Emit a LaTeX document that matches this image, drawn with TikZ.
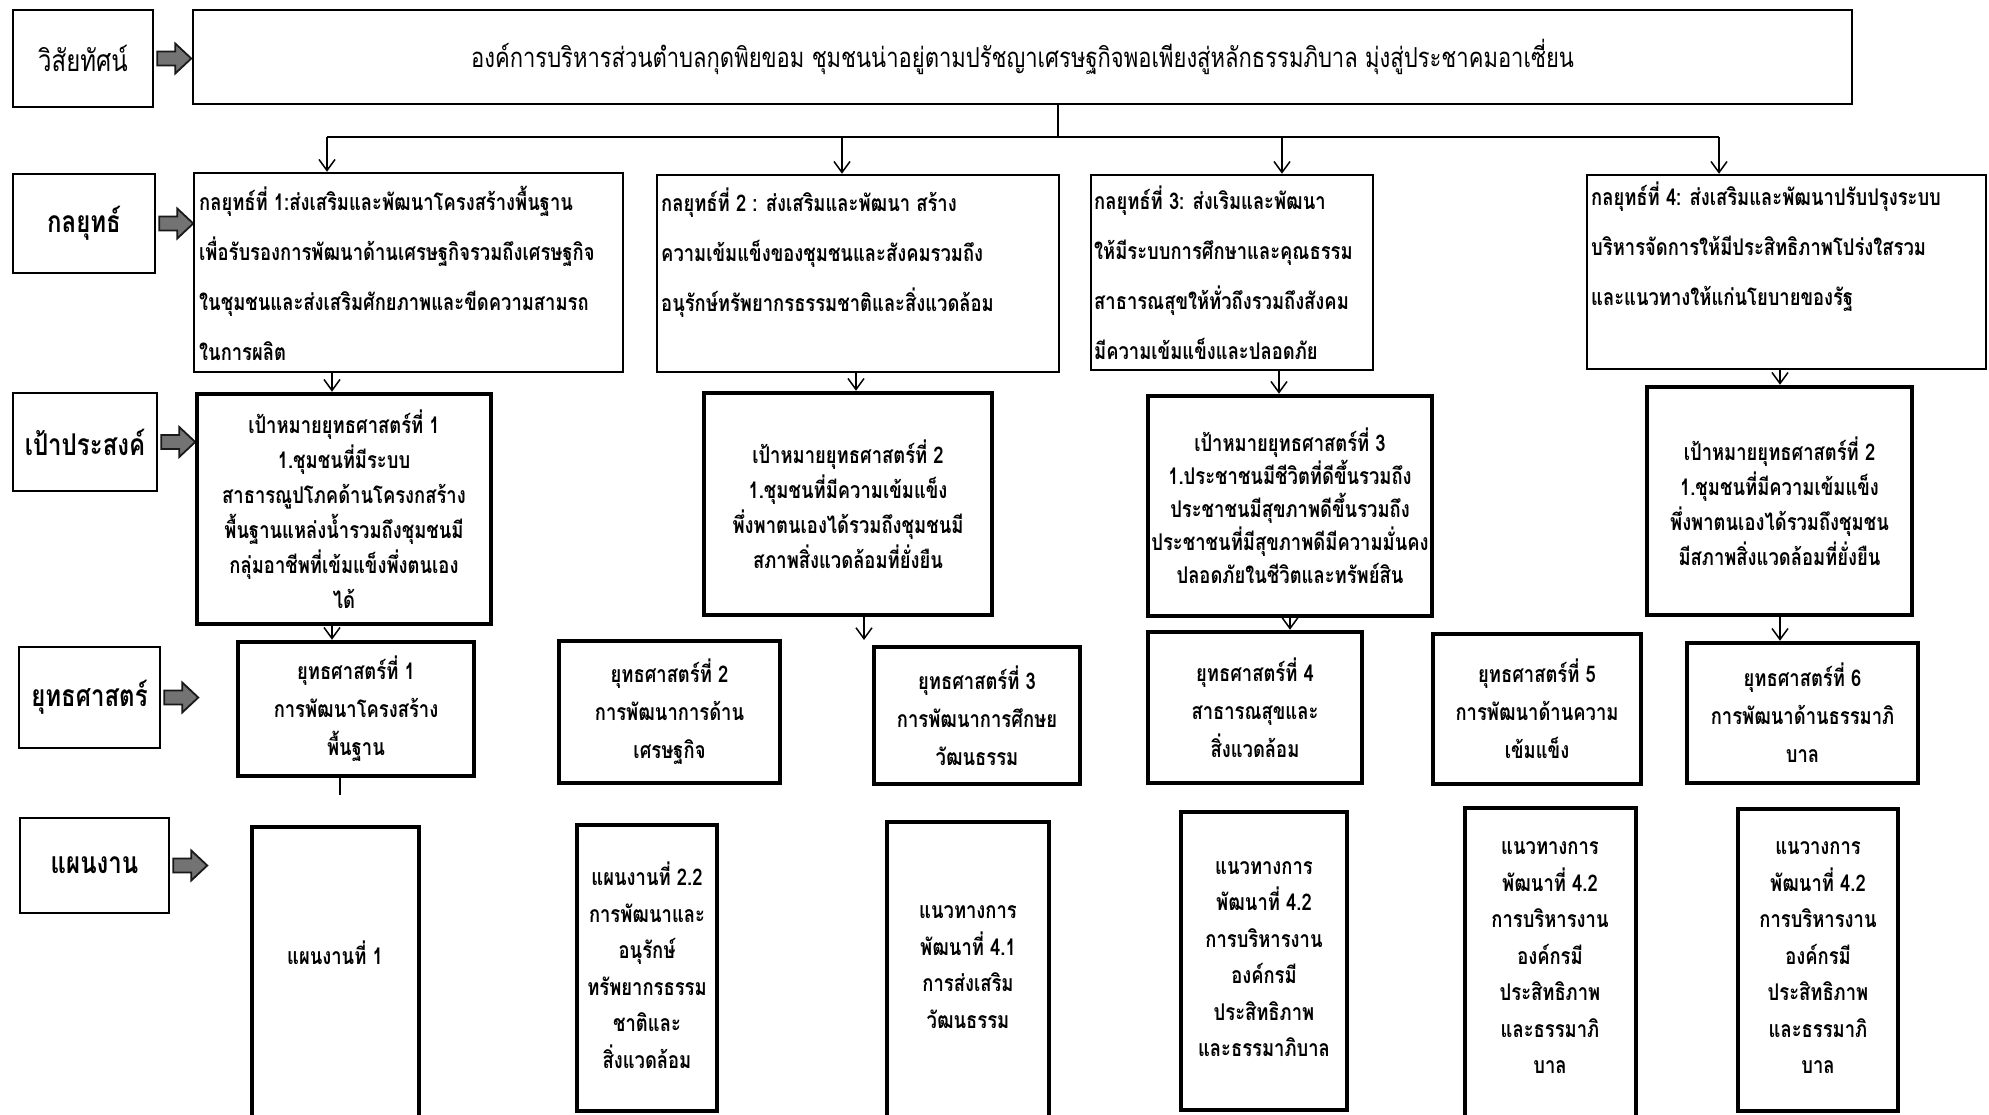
\documentclass[tikz,border=0pt]{standalone}
\usepackage{fontspec}
\newfontfamily\thai[Script=Thai,FakeStretch=0.8]{Loma}
\usetikzlibrary{arrows.meta,fit}
\newcommand\fatarrow[1]{\filldraw[fatarr] (#1) ++(3,-7) -- ++(18,0) -- ++(0,-8) -- ++(16,15) -- ++(-16,15) -- ++(0,-8) -- ++(-18,0) -- cycle;}
\begin{document}
\begin{tikzpicture}[x=1pt,y=-1pt,
  lab/.style={draw, line width=2.5pt, inner sep=0pt},
  sbox/.style={draw, line width=2.5pt, inner sep=0pt},
  tbox/.style={draw, line width=4.5pt, inner sep=0pt},
  arr/.style={line width=1.5pt, -{Straight Barb[length=11pt,width=16pt,line width=1.5pt]}},
  link/.style={line width=1.5pt},
  fatarr/.style={fill=black!55, draw=black!90, line width=1.8pt},
  labtxt/.style={font=\thai\bfseries\fontsize{30}{36}\selectfont, inner sep=0pt},
  labtxtr/.style={font=\thai\fontsize{30}{36}\selectfont, inner sep=0pt},
  vistxt/.style={font=\thai\fontsize{27.5}{32}\selectfont, inner sep=0pt},
  stxt/.style={font=\thai\bfseries\fontsize{23}{50}\selectfont, align=left, inner sep=0pt, anchor=north west},
  gtxt/.style={font=\thai\bfseries\fontsize{23}{35}\selectfont, align=center, inner sep=0pt},
  gtxtb/.style={font=\thai\bfseries\fontsize{23}{33}\selectfont, align=center, inner sep=0pt},
  ttxt/.style={font=\thai\bfseries\fontsize{23}{38}\selectfont, align=center, inner sep=0pt},
  ptxt/.style={font=\thai\bfseries\fontsize{23}{36.5}\selectfont, align=center, inner sep=0pt}
]
\fill[white] (0,0) rectangle (1989,1114);
\useasboundingbox (0,0) rectangle (1989,1114);

% row labels
\node[lab, fit={(13,10) (153,107)}] (L1) {};
\node[lab, fit={(13,174) (155,273)}] (L2) {};
\node[lab, fit={(13,393) (157,491)}] (L3) {};
\node[lab, fit={(19,647) (160,748)}] (L4) {};
\node[lab, fit={(20,818) (169,913)}] (L5) {};
\node[labtxtr] (L1t) at (L1.center) {วิสัยทัศน์};
\node[labtxt] (L2t) at (L2.center) {กลยุทธ์};
\node[labtxt] (L3t) at (L3.center) {เป้าประสงค์};
\node[labtxt] (L4t) at (L4.center) {ยุทธศาสตร์};
\node[labtxt] (L5t) at (L5.center) {แผนงาน};
\fatarrow{L1.east}
\fatarrow{L2.east}
\fatarrow{L3.east}
\fatarrow{L4.east}
\fatarrow{L5.east}

% vision
\node[lab, fit={(193,10) (1852,104)}] (V) {};
\node[vistxt] (Vt) at (V.center) {องค์การบริหารส่วนตำบลกุดพิยขอม ชุมชนน่าอยู่ตามปรัชญาเศรษฐกิจพอเพียงสู่หลักธรรมภิบาล มุ่งสู่ประชาคมอาเซี่ยน};

% strategy (kolayut) boxes
\node[sbox, fit={(194,173) (623,372)}] (S1) {};
\node[sbox, fit={(657,175) (1059,372)}] (S2) {};
\node[sbox, fit={(1091,175) (1373,370)}] (S3) {};
\node[sbox, fit={(1587,175) (1986,369)}] (S4) {};
\node[stxt] (S1t) at (199,186) {กลยุทธ์ที่ 1:ส่งเสริมและพัฒนาโครงสร้างพื้นฐาน\\เพื่อรับรองการพัฒนาด้านเศรษฐกิจรวมถึงเศรษฐกิจ\\ในชุมชนและส่งเสริมศักยภาพและขีดความสามรถ\\ในการผลิต};
\node[stxt] (S2t) at (661,188) {กลยุทธ์ที่ 2 : ส่งเสริมและพัฒนา สร้าง\\ความเข้มแข็งของชุมชนและสังคมรวมถึง\\อนุรักษ์ทรัพยากรธรรมชาติและสิ่งแวดล้อม};
\node[stxt] (S3t) at (1094,186) {กลยุทธ์ที่ 3: ส่งเริมและพัฒนา\\ให้มีระบบการศึกษาและคุณธรรม\\สาธารณสุขให้ทั่วถึงรวมถึงสังคม\\มีความเข้มแข็งและปลอดภัย};
\node[stxt] (S4t) at (1591,182) {กลยุทธ์ที่ 4: ส่งเสริมและพัฒนาปรับปรุงระบบ\\บริหารจัดการให้มีประสิทธิภาพโปร่งใสรวม\\และแนวทางให้แก่นโยบายของรัฐ};

% distribution connectors
\coordinate (vj) at (1058,137);
\coordinate (h1) at (327,137);
\coordinate (h2) at (842,137);
\coordinate (h3) at (1282,137);
\coordinate (h4) at (1719,137);
\draw[link] (V.south -| vj) -- (vj);
\draw[link] (h1) -- (h4);
\draw[arr] (h1) -- (h1 |- S1.north);
\draw[arr] (h2) -- (h2 |- S2.north);
\draw[arr] (h3) -- (h3 |- S3.north);
\draw[arr] (h4) -- (h4 |- S4.north);

% goal boxes
\node[tbox, fit={(197,394) (491,624)}] (G1) {};
\node[tbox, fit={(704,393) (992,615)}] (G2) {};
\node[tbox, fit={(1148,396) (1432,616)}] (G3) {};
\node[tbox, fit={(1647,387) (1912,615)}] (G4) {};
\node[gtxt] (G1t) at (G1.center) {เป้าหมายยุทธศาสตร์ที่ 1\\1.ชุมชนที่มีระบบ\\สาธารณูปโภคด้านโครงกสร้าง\\พื้นฐานแหล่งน้ำรวมถึงชุมชนมี\\กลุ่มอาชีพที่เข้มแข็งพึ่งตนเอง\\ได้};
\node[gtxt] (G2t) at (G2.center) {เป้าหมายยุทธศาสตร์ที่ 2\\1.ชุมชนที่มีความเข้มแข็ง\\พึ่งพาตนเองได้รวมถึงชุมชนมี\\สภาพสิ่งแวดล้อมที่ยั่งยืน};
\node[gtxtb] (G3t) at (G3.center) {เป้าหมายยุทธศาสตร์ที่ 3\\1.ประชาชนมีชีวิตที่ดีขึ้นรวมถึง\\ประชาชนมีสุขภาพดีขึ้นรวมถึง\\ประชาชนที่มีสุขภาพดีมีความมั่นคง\\ปลอดภัยในชีวิตและทรัพย์สิน};
\node[gtxt] (G4t) at (G4.center) {เป้าหมายยุทธศาสตร์ที่ 2\\1.ชุมชนที่มีความเข้มแข็ง\\พึ่งพาตนเองได้รวมถึงชุมชน\\มีสภาพสิ่งแวดล้อมที่ยั่งยืน};

\coordinate (c1) at (332,0);
\coordinate (c2) at (856,0);
\coordinate (c3) at (1279,0);
\coordinate (c4) at (1780,0);
\draw[arr] (S1.south -| c1) -- (G1.north -| c1);
\draw[arr] (S2.south -| c2) -- (G2.north -| c2);
\draw[arr] (S3.south -| c3) -- (G3.north -| c3);
\draw[arr] (S4.south -| c4) -- (G4.north -| c4);

% strategy (yuttasat) boxes
\node[tbox, fit={(238,642) (474,776)}] (T1) {};
\node[tbox, fit={(559,641) (780,783)}] (T2) {};
\node[tbox, fit={(874,647) (1080,784)}] (T3) {};
\node[tbox, fit={(1148,632) (1362,783)}] (T4) {};
\node[tbox, fit={(1433,634) (1641,784)}] (T5) {};
\node[tbox, fit={(1687,643) (1918,783)}] (T6) {};
\node[ttxt] (T1t) at (T1.center) {ยุทธศาสตร์ที่ 1\\การพัฒนาโครงสร้าง\\พื้นฐาน};
\node[ttxt] (T2t) at (T2.center) {ยุทธศาสตร์ที่ 2\\การพัฒนาการด้าน\\เศรษฐกิจ};
\node[ttxt] (T3t) at (T3.center) {ยุทธศาสตร์ที่ 3\\การพัฒนาการศึกษย\\วัฒนธรรม};
\node[ttxt] (T4t) at (T4.center) {ยุทธศาสตร์ที่ 4\\สาธารณสุขและ\\สิ่งแวดล้อม};
\node[ttxt] (T5t) at (T5.center) {ยุทธศาสตร์ที่ 5\\การพัฒนาด้านความ\\เข้มแข็ง};
\node[ttxt] (T6t) at (T6.center) {ยุทธศาสตร์ที่ 6\\การพัฒนาด้านธรรมาภิ\\บาล};

\coordinate (g2e) at (864,640);
\coordinate (c5) at (1290,0);
\coordinate (t1e) at (340,795);
\draw[arr] (G1.south -| c1) -- (T1.north -| c1);
\draw[arr] (G2.south -| g2e) -- (g2e);
\draw[arr] (G3.south -| c5) -- (T4.north -| c5);
\draw[arr] (G4.south -| c4) -- (T6.north -| c4);
\draw[link] (T1.south -| t1e) -- (t1e);

% plan boxes
\node[tbox, fit={(252,827) (419,1130)}] (P1) {};
\node[tbox, fit={(577,825) (717,1111)}] (P2) {};
\node[tbox, fit={(887,822) (1049,1130)}] (P3) {};
\node[tbox, fit={(1181,812) (1347,1110)}] (P4) {};
\node[tbox, fit={(1465,808) (1636,1130)}] (P5) {};
\node[tbox, fit={(1738,809) (1898,1111)}] (P6) {};
\node[ptxt] (P1t) at (335,953) {แผนงานที่ 1};
\node[ptxt] (P2t) at (647,965) {แผนงานที่ 2.2\\การพัฒนาและ\\อนุรักษ์\\ทรัพยากรธรรม\\ชาติและ\\สิ่งแวดล้อม};
\node[ptxt] (P3t) at (968,967) {แนวทางการ\\พัฒนาที่ 4.1\\การส่งเสริม\\วัฒนธรรม};
\node[ptxt] (P4t) at (1264,959) {แนวทางการ\\พัฒนาที่ 4.2\\การบริหารงาน\\องค์กรมี\\ประสิทธิภาพ\\และธรรมาภิบาล};
\node[ptxt] (P5t) at (1550,958) {แนวทางการ\\พัฒนาที่ 4.2\\การบริหารงาน\\องค์กรมี\\ประสิทธิภาพ\\และธรรมาภิ\\บาล};
\node[ptxt] (P6t) at (1818,958) {แนวางการ\\พัฒนาที่ 4.2\\การบริหารงาน\\องค์กรมี\\ประสิทธิภาพ\\และธรรมาภิ\\บาล};
\end{tikzpicture}
\end{document}
